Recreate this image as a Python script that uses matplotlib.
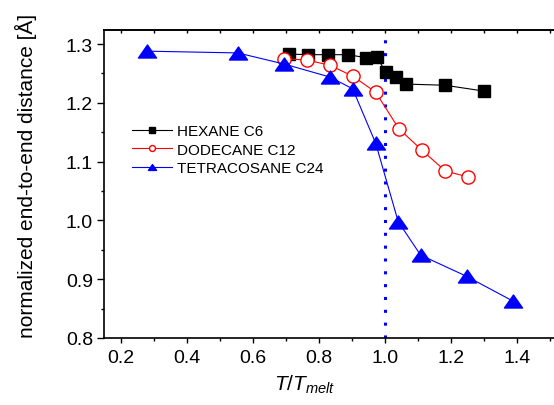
import matplotlib
matplotlib.use("Agg")
import matplotlib.pyplot as plt
import numpy as np
from matplotlib.path import Path

plt.rcParams['font.family'] = ['Liberation Sans', 'DejaVu Sans']
plt.rcParams['mathtext.fontset'] = 'custom'
plt.rcParams['mathtext.it'] = 'Liberation Sans:italic'
plt.rcParams['mathtext.rm'] = 'Liberation Sans'

# Data
hex_x = [0.709, 0.768, 0.827, 0.887, 0.942, 0.975, 1.003, 1.032, 1.063, 1.182, 1.301]
hex_y = [1.283, 1.282, 1.282, 1.282, 1.277, 1.278, 1.252, 1.244, 1.232, 1.230, 1.220]
dod_x = [0.695, 0.763, 0.833, 0.904, 0.972, 1.042, 1.113, 1.183, 1.252]
dod_y = [1.275, 1.273, 1.264, 1.245, 1.218, 1.156, 1.119, 1.084, 1.074]
tet_x = [0.278, 0.554, 0.695, 0.833, 0.902, 0.972, 1.040, 1.108, 1.247, 1.387]
tet_y = [1.288, 1.285, 1.266, 1.244, 1.224, 1.131, 0.998, 0.941, 0.905, 0.863]
labels = ["HEXANE C6", "DODECANE C12", "TETRACOSANE C24"]
x_ticks = [0.2, 0.4, 0.6, 0.8, 1.0, 1.2, 1.4]
y_ticks = [0.8, 0.9, 1.0, 1.1, 1.2, 1.3]
melt_x = 1.0

W, H = 554, 406
fig = plt.figure(figsize=(W / 100, H / 100), dpi=100)
L, R, T, B = 104, 556, 31, 339
ax = fig.add_axes([L / W, (H - B) / H, (R - L) / W, (B - T) / H])

tri = Path([(0, 0.72), (-1, -0.72), (1, -0.72), (0, 0.72)],
           [Path.MOVETO, Path.LINETO, Path.LINETO, Path.CLOSEPOLY])

ax.plot(hex_x, hex_y, color='black', lw=0.8, marker='s', ms=8.5,
        mfc='black', mec='black', label=labels[0], zorder=3)
ax.plot(dod_x, dod_y, color='red', lw=0.8, marker='o', ms=9.5,
        mfc='white', mec='red', mew=1.0, label=labels[1], zorder=3)
ax.plot(tet_x, tet_y, color='blue', lw=0.8, marker=tri, ms=13,
        mfc='blue', mec='blue', label=labels[2], zorder=3)

ax.axvline(melt_x, color='blue', lw=2.2, linestyle=(0, (1, 3.2)),
           dash_capstyle='butt', zorder=2)

ax.set_xlim(0.1485, 0.1485 + (R - L) / 330.0)
ax.set_ylim(0.8, 1.324)

ax.set_xticks(x_ticks)
ax.set_xticklabels([f"{v:.1f}" for v in x_ticks])
ax.set_xticks(np.arange(0.3, 1.55, 0.2), minor=True)
ax.set_yticks(y_ticks)
ax.set_yticklabels([f"{v:.1f}" for v in y_ticks])
ax.set_yticks([0.85, 0.95, 1.05, 1.15, 1.25], minor=True)

ax.tick_params(axis='both', which='major', direction='out', labelsize=14,
               width=1.0, color='black')
ax.tick_params(axis='y', which='major', length=5, pad=3)
ax.tick_params(axis='y', which='minor', direction='out', length=2.5, width=1.0)
ax.tick_params(axis='x', which='major', length=3.6, pad=4)
ax.tick_params(axis='x', which='minor', direction='out', length=2.2, width=1.0)

top = ax.secondary_xaxis('top')
top.set_xticks(np.arange(0.2, 1.55, 0.1))
top.tick_params(direction='in', length=2, width=1.0, labeltop=False)
top.spines['top'].set_linewidth(1.2)

for s in ['left', 'bottom', 'top']:
    ax.spines[s].set_linewidth(1.2)
ax.spines['right'].set_visible(False)

ax.set_ylabel("normalized end-to-end distance [Å]", fontsize=15, labelpad=6)
ax.yaxis.set_label_coords(-67 / (R - L), 0.53)
fig.text(305 / W, 1 - 391 / H, r"$T/T_{melt}$", fontsize=15, ha='center',
         va='baseline')

leg = ax.legend(loc='upper left', bbox_to_anchor=(132 / W, 1 - 125 / H),
                bbox_transform=fig.transFigure, frameon=False, fontsize=11,
                markerscale=0.45, handlelength=2.6, handletextpad=0.35,
                labelspacing=0.3, borderaxespad=0, borderpad=0)

fig.savefig("out.png", dpi=100)
